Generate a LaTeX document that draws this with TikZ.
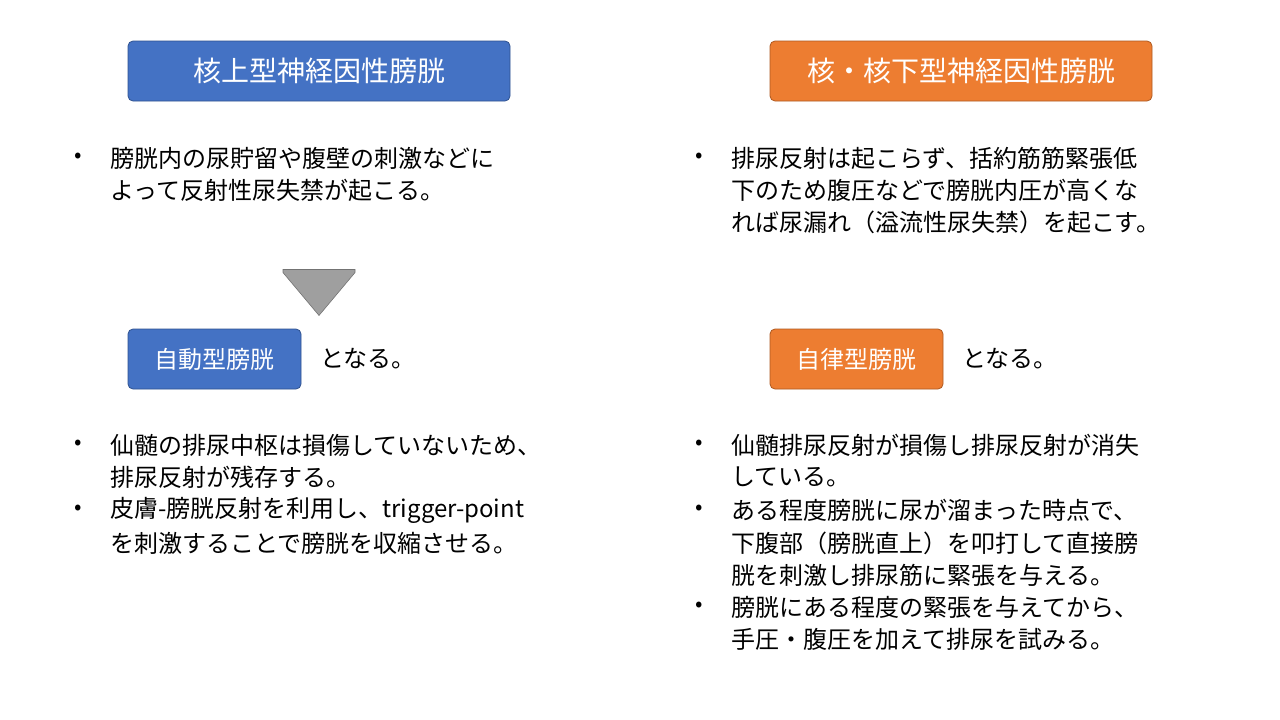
\documentclass[tikz,border=0pt]{standalone}
\usepackage{fontspec}
\setmainfont{Noto Sans CJK JP}
\usetikzlibrary{shapes.arrows}
\definecolor{bl}{HTML}{4472C4}\definecolor{bld}{HTML}{2F528F}
\definecolor{or}{HTML}{ED7D31}\definecolor{ord}{HTML}{AE5A21}
\tikzset{x=1pt,y=-1pt,
 hb/.style={rounded corners=5pt,line width=0.8pt},
 bt/.style={text=white,font=\fontsize{28}{30}\selectfont},
 bs/.style={text=white,font=\fontsize{24}{26}\selectfont},
 ln/.style={anchor=west,inner sep=0pt,font=\fontsize{24}{26}\selectfont},
 bu/.style={anchor=center,inner sep=0pt,font=\fontsize{22}{24}\selectfont}}
\begin{document}
\begin{tikzpicture}
\useasboundingbox[fill=white] (0,0) rectangle (1280,720);
\draw[hb,fill=bl,draw=bld] (128,41) rectangle (510,101);
\node[bt] (t1) at (319,71) {核上型神経因性膀胱};
\draw[hb,fill=or,draw=ord] (770,41) rectangle (1152,101);
\node[bt,text=white] (t2) at (961,71) {核・核下型神経因性膀胱};
\draw[hb,fill=bl,draw=bld] (128,329) rectangle (301,389);
\node[bs] (s1) at (214.5,359) {自動型膀胱};
\node[ln] (s1b) at (320,359) {となる。};
\draw[hb,fill=or,draw=ord] (770,329) rectangle (943,389);
\node[bs] (s2) at (856.5,359) {自律型膀胱};
\node[ln] (s2b) at (962,359) {となる。};
\node[single arrow,shape border rotate=270,fill=gray!75,draw=gray!90!black,line width=0.6pt,minimum width=72pt,minimum height=46pt,single arrow head extend=0pt,inner sep=0pt,single arrow tip angle=80] (ar) at (319,271) {};
% left top
\node[bu] (b1) at (78,158) {•};
\node[ln] (l1) at (110,158) {膀胱内の尿貯留や腹壁の刺激などに};
\node[ln] (l2) at (110,190) {よって反射性尿失禁が起こる。};
% right top
\node[bu] (b2) at (699,158) {•};
\node[ln] (r1) at (731,158) {排尿反射は起こらず、括約筋筋緊張低};
\node[ln] (r2) at (731,190) {下のため腹圧などで膀胱内圧が高くな};
\node[ln] (r3) at (731,222) {れば尿漏れ（溢流性尿失禁）を起こす。};
% left bottom
\node[bu] (b3) at (78,445) {•};
\node[ln] (l3) at (110,445) {仙髄の排尿中枢は損傷していないため、};
\node[ln] (l4) at (110,477) {排尿反射が残存する。};
\node[bu] (b4) at (78,510) {•};
\node[ln] (l5) at (110,510) {皮膚-膀胱反射を利用し、trigger-point};
\node[ln] (l6) at (110,543) {を刺激することで膀胱を収縮させる。};
% right bottom
\node[bu] (b5) at (699,445) {•};
\node[ln] (r4) at (731,445) {仙髄排尿反射が損傷し排尿反射が消失};
\node[ln] (r5) at (731,477) {している。};
\node[bu] (b6) at (699,510) {•};
\node[ln] (r6) at (731,510) {ある程度膀胱に尿が溜まった時点で、};
\node[ln] (r7) at (731,543) {下腹部（膀胱直上）を叩打して直接膀};
\node[ln] (r8) at (731,575) {胱を刺激し排尿筋に緊張を与える。};
\node[bu] (b7) at (699,607) {•};
\node[ln] (r9) at (731,607) {膀胱にある程度の緊張を与えてから、};
\node[ln] (r10) at (731,639) {手圧・腹圧を加えて排尿を試みる。};
\end{tikzpicture}
\end{document}
